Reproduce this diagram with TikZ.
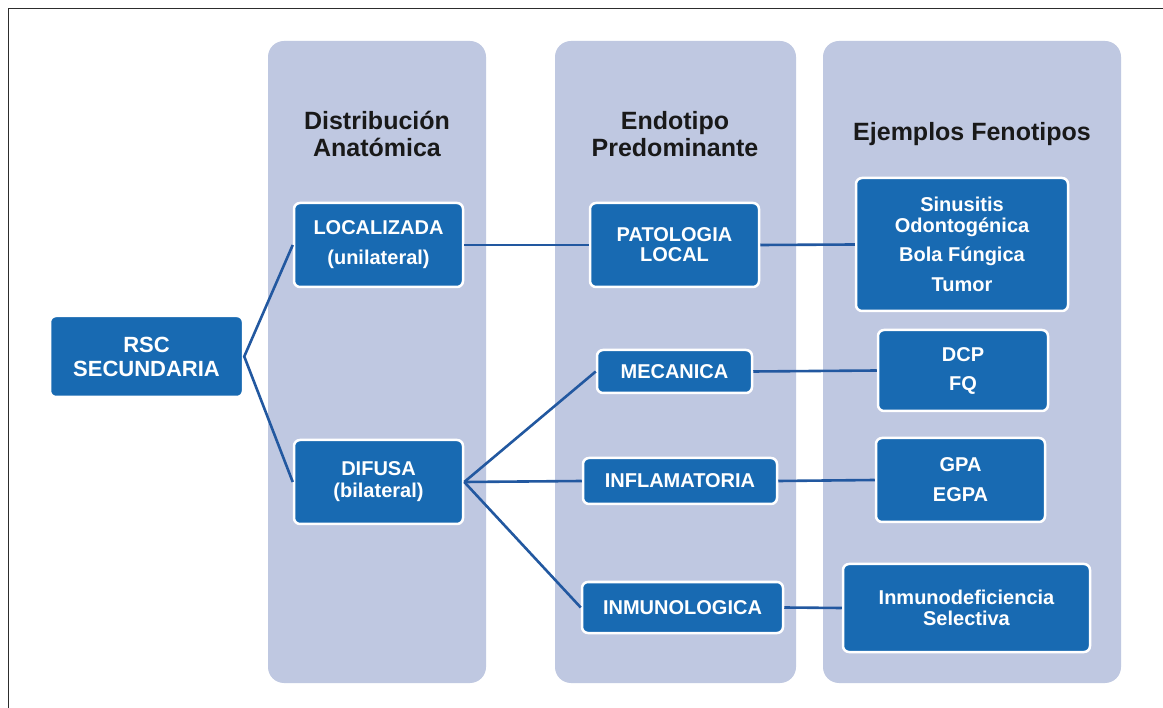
\documentclass[tikz,border=0pt]{standalone}
\usepackage{fontspec}
\setmainfont{Liberation Sans}
\definecolor{colfill}{RGB}{191,200,225}
\definecolor{boxblue}{RGB}{24,106,178}
\definecolor{linkblue}{RGB}{34,88,160}
\definecolor{framegray}{RGB}{45,45,45}
\tikzset{
  bluebox/.style={draw=white, line width=2.5pt, fill=boxblue, rounded corners=6pt,
    text=white, font=\bfseries\fontsize{20}{21}\selectfont, align=center, inner sep=0pt},
  header/.style={text=black!90, font=\bfseries\fontsize{25}{27}\selectfont, align=center, inner sep=0pt},
  link/.style={draw=linkblue, line width=2.6pt},
  column/.style={fill=colfill, rounded corners=16pt}
}
\begin{document}
\begin{tikzpicture}[x=1pt, y=-1pt]
  \useasboundingbox (0,0) rectangle (1163,708);
  \fill[white] (0,0) rectangle (1163,708);
  % outer frame
  \draw[framegray, line width=1.6pt] (8.5,708) -- (8.5,8.5) -- (1163,8.5);

  % background columns
  \fill[column] (268,41) rectangle (486,683);
  \fill[column] (555,41) rectangle (796,683);
  \fill[column] (823,41) rectangle (1121,683);

  % column headers
  \node[header] (h1) at (377,134) {Distribución\\Anatómica};
  \node[header] (h2) at (675,134) {Endotipo\\Predominante};
  \node[header] (h3) at (972,134) {Ejemplos Fenotipos};

  % boxes
  \node[bluebox, minimum width=193pt, minimum height=81pt,
        font=\bfseries\fontsize{22}{24}\selectfont] (rsc) at (146.5,356.5) {RSC\\SECUNDARIA};
  \node[bluebox, minimum width=169pt, minimum height=84pt] (loc) at (378.5,245) {LOCALIZADA\\[9pt](unilateral)};
  \node[bluebox, minimum width=169pt, minimum height=84pt] (dif) at (378.5,482) {DIFUSA\\[1pt](bilateral)};
  \node[bluebox, minimum width=169pt, minimum height=84pt] (pat) at (674.5,245) {PATOLOGIA\\[-1pt]LOCAL};
  \node[bluebox, minimum width=155pt, minimum height=43pt] (mec) at (674.5,371.5) {MECANICA};
  \node[bluebox, minimum width=194pt, minimum height=46pt] (inf) at (680,481) {INFLAMATORIA};
  \node[bluebox, minimum width=201pt, minimum height=51pt] (inm) at (682.5,607.5) {INMUNOLOGICA};
  \node[bluebox, minimum width=212pt, minimum height=133pt] (sin) at (962,244.5)
        {Sinusitis\\Odontogénica\\[8pt]Bola Fúngica\\[9pt]Tumor};
  \node[bluebox, minimum width=170pt, minimum height=81pt] (dcp) at (963,370.5) {DCP\\[8pt]FQ};
  \node[bluebox, minimum width=169pt, minimum height=84pt] (gpa) at (960.5,480) {GPA\\[9pt]EGPA};
  \node[bluebox, minimum width=247pt, minimum height=88pt] (imd) at (966.5,608) {Inmunodeficiencia\\Selectiva};

  % connectors
  \draw[link] (loc.west) -- (rsc.east) -- (dif.west);
  \draw[link] (loc.east) -- (pat.west);
  \draw[link] (pat.east) -- (sin.west);
  \draw[link] (dif.east) -- (mec.west);
  \draw[link] (dif.east) -- (inf.west);
  \draw[link] (dif.east) -- (inm.west);
  \draw[link] (mec.east) -- (dcp.west);
  \draw[link] (inf.east) -- (gpa.west);
  \draw[link] (inm.east) -- (imd.west);
\end{tikzpicture}
\end{document}
